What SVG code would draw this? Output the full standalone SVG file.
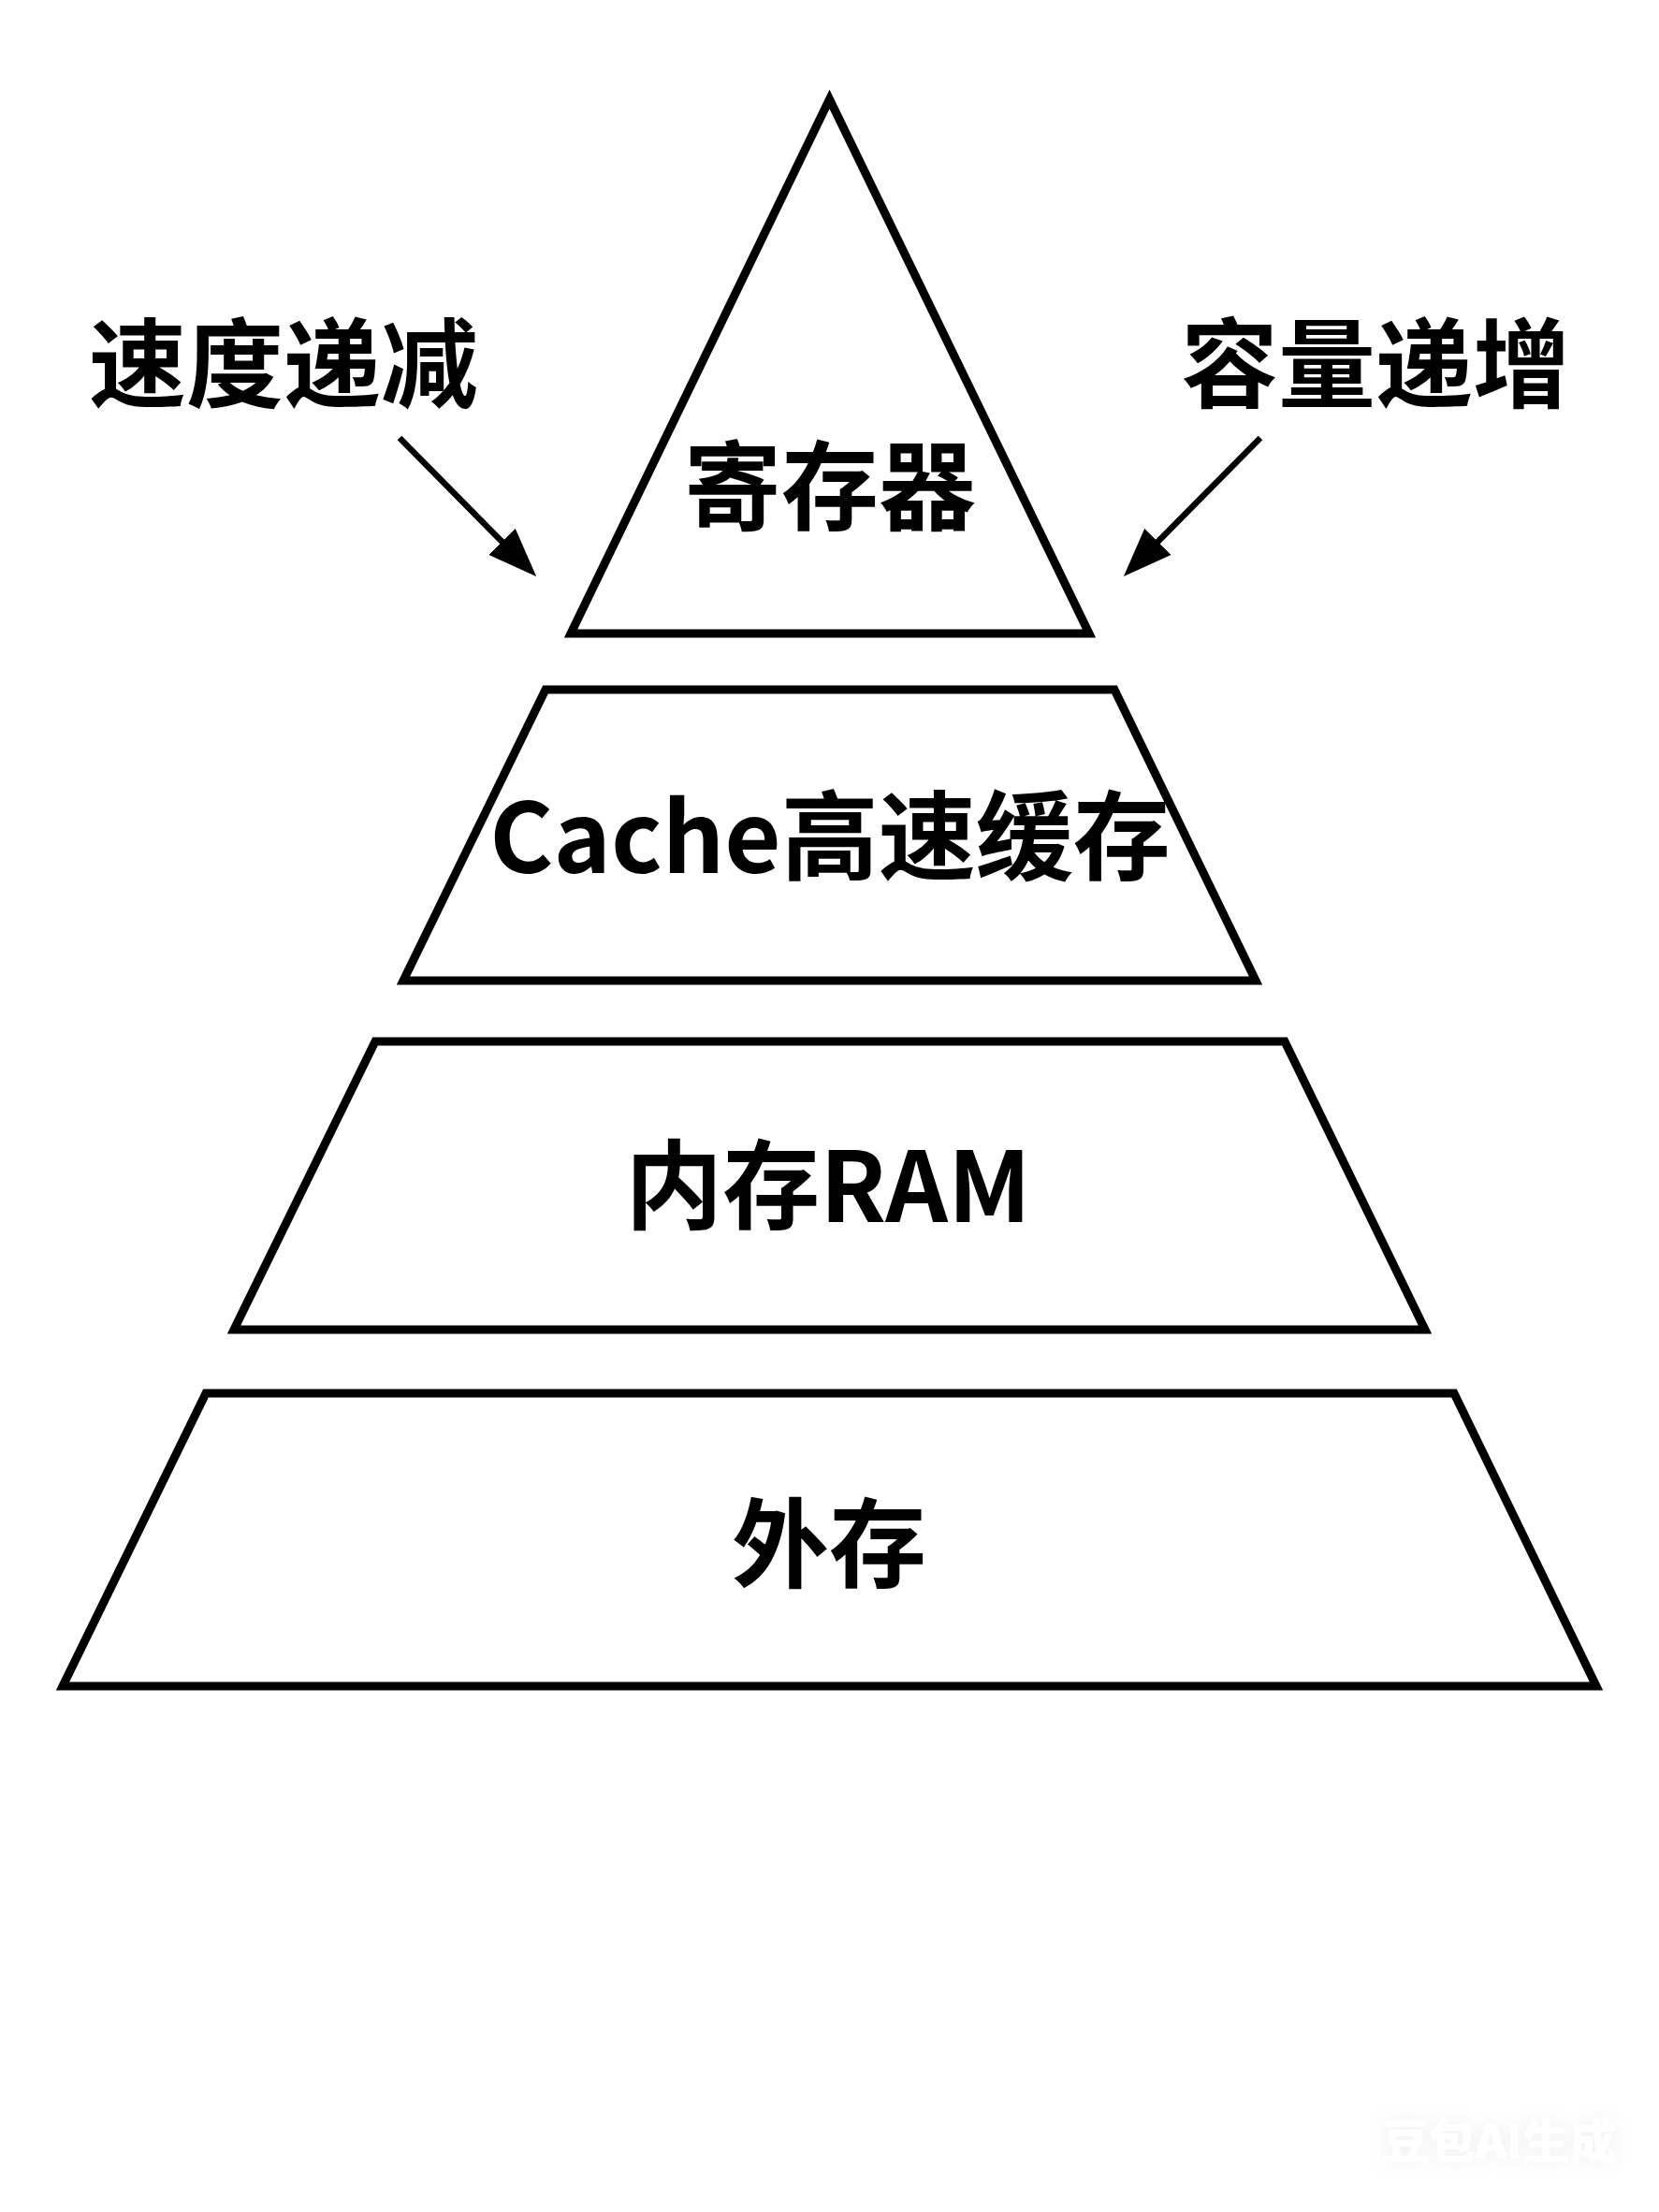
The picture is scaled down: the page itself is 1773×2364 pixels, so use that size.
<svg xmlns="http://www.w3.org/2000/svg" width="1773" height="2364" viewBox="0 0 1773 2364">
<style>
.shape{fill:#ffffff;stroke:#000000;stroke-width:9;stroke-linejoin:miter}
.lbl{font-family:"Noto Sans CJK SC","Noto Sans",sans-serif;font-weight:700;font-size:104px;fill:#000000;text-anchor:middle;dominant-baseline:central}
.conn{stroke:#000000;stroke-width:6.5;fill:none}
.wm{font-family:"Noto Sans CJK SC","Noto Sans",sans-serif;font-weight:900;font-size:50px;fill:#ffffff;text-anchor:middle;dominant-baseline:central}
</style>
<defs>
<marker id="ah" markerUnits="userSpaceOnUse" markerWidth="54" markerHeight="40" refX="12" refY="20" orient="auto">
<path d="M0,0 L52,20 L0,40 Z" fill="#000000"/>
</marker>
<filter id="glow" x="-30%" y="-60%" width="160%" height="220%">
<feGaussianBlur in="SourceAlpha" stdDeviation="10" result="b"/>
<feFlood flood-color="#000000" flood-opacity="0.06"/>
<feComposite in2="b" operator="in" result="s"/>
<feMerge><feMergeNode in="s"/><feMergeNode in="SourceGraphic"/></feMerge>
</filter>
</defs>
<rect x="0" y="0" width="1773" height="2364" fill="#ffffff"/>
<g id="node-register">
<polygon class="shape" points="886.5,106 1164,677 610,677"/>
<text class="lbl" x="887" y="513">寄存器</text>
</g>
<g id="node-cache">
<polygon class="shape" points="583,737 1191,737 1342,1048 431,1048"/>
<text class="lbl" x="887" y="887" font-size="102">Cache高速缓存</text>
</g>
<g id="node-ram">
<polygon class="shape" points="401,1113 1373,1113 1523,1421 250,1421"/>
<text class="lbl" x="885" y="1260">内存RAM</text>
</g>
<g id="node-storage">
<polygon class="shape" points="220,1489 1554,1489 1706,1802 67,1802"/>
<text class="lbl" x="886" y="1643">外存</text>
</g>
<g id="label-speed">
<text class="lbl" x="303" y="382">速度递减</text>
</g>
<g id="label-capacity">
<text class="lbl" x="1470" y="382">容量递增</text>
</g>
<g id="connectors">
<line class="conn" x1="427" y1="468" x2="545" y2="587.5" marker-end="url(#ah)"/>
<line class="conn" x1="1347" y1="468" x2="1229" y2="587.5" marker-end="url(#ah)"/>
</g>
<g id="watermark">
<text class="wm" x="1602" y="2285" filter="url(#glow)">豆包AI生成</text>
</g>
</svg>
